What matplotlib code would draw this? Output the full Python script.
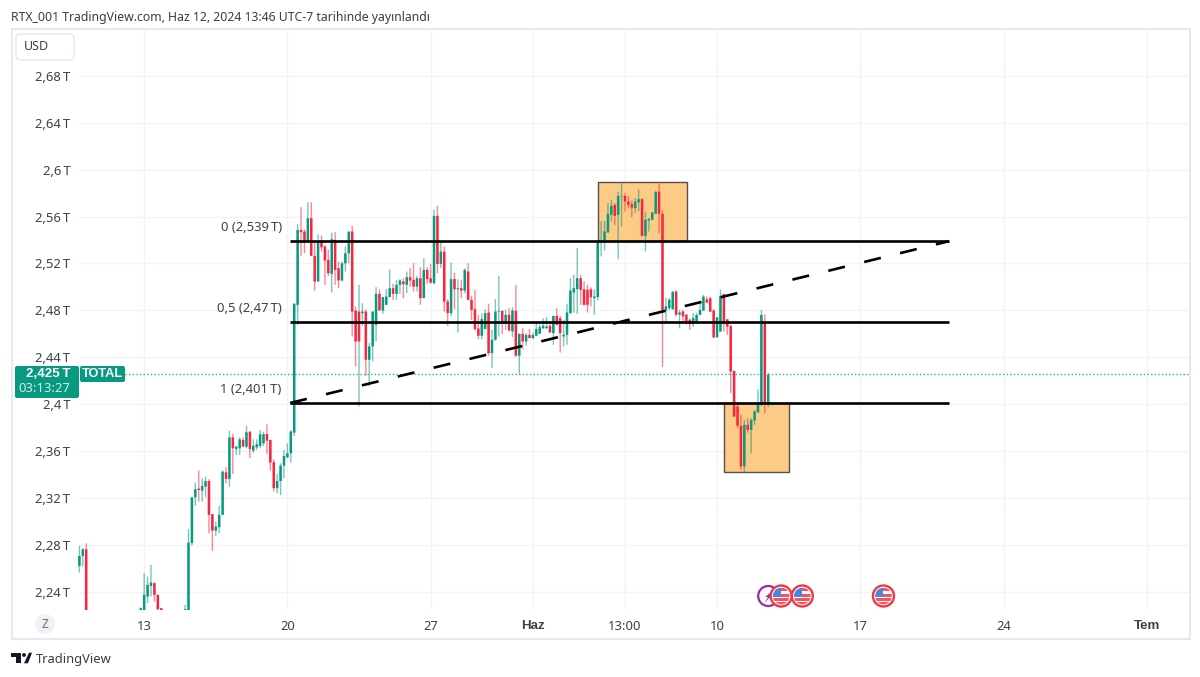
import matplotlib
matplotlib.use("Agg")
import matplotlib.pyplot as plt
from matplotlib.patches import Rectangle, Circle, Polygon, FancyBboxPatch

plt.rcParams['font.family'] = ['Noto Sans', 'DejaVu Sans']

# candle index: 6 candles per day, 0 = 20 May 00:00
candle_idx = list(range(-61, -58)) + list(range(-43, -36)) + list(range(-30, 142))

opens = [2.2621, 2.2706, 2.2763,
 2.20, 2.20, 2.2360, 2.2450, 2.2474, 2.2374, 2.226,
 2.20, 2.20, 2.2815, 2.3206, 2.3280, 2.3263, 2.3297, 2.3345, 2.3062, 2.2922,
 2.2951, 2.3056, 2.3419, 2.3363, 2.3717, 2.3618, 2.3624, 2.3695, 2.3638, 2.3766,
 2.3604, 2.3632, 2.3644, 2.3666, 2.3746, 2.3695, 2.3505, 2.3283, 2.3345, 2.3476,
 2.3547, 2.3581, 2.3757,
 2.4847, 2.5486, 2.5472, 2.5387, 2.5586, 2.5265, 2.5046, 2.5387, 2.5344, 2.5231,
 2.5111, 2.5401, 2.5160, 2.5055, 2.5202, 2.5287, 2.5472, 2.4799, 2.4790, 2.4776,
 2.4790, 2.4379, 2.4492, 2.4677, 2.4941, 2.4799, 2.4847, 2.4913, 2.4989, 2.4941,
 2.5018, 2.5046, 2.5018, 2.5083, 2.5060, 2.5003, 2.5074, 2.4904, 2.5145, 2.5074,
 2.5032, 2.5606, 2.5196, 2.5301, 2.4875, 2.4776, 2.5066, 2.4980, 2.4989, 2.4969,
 2.5131, 2.4890, 2.4810, 2.4645, 2.4583, 2.4640, 2.4782, 2.4435, 2.4549, 2.4790,
 2.4796, 2.4685, 2.4762, 2.4620, 2.4796, 2.4413, 2.4600, 2.4535, 2.4591, 2.4563,
 2.4583, 2.4600, 2.4648, 2.4648, 2.4668, 2.4606, 2.4753, 2.4733, 2.4577, 2.4591,
 2.4776, 2.4952, 2.4980, 2.5074, 2.4980, 2.4975, 2.4980, 2.4904, 2.4913, 2.5387,
 2.5393, 2.5464, 2.5615, 2.5700, 2.5615, 2.5771, 2.5776, 2.5728, 2.5706, 2.5671,
 2.5720, 2.5748, 2.5436, 2.5566, 2.5572, 2.5623, 2.5813, 2.5623, 2.4800, 2.4819,
 2.4809, 2.4961, 2.4763, 2.4791, 2.4763, 2.4720, 2.4683, 2.4690, 2.4761, 2.4798,
 2.4894, 2.4903, 2.4798, 2.4570, 2.4619, 2.4940, 2.4724, 2.4667, 2.4284, 2.3980,
 2.3815, 2.3469, 2.3824, 2.3781, 2.3861, 2.3929, 2.3994, 2.4695, 2.4014]

closes = [2.2706, 2.2763, 2.20,
 2.226, 2.2374, 2.2459, 2.2479, 2.2374, 2.2252, 2.20,
 2.2252, 2.2820, 2.3206, 2.3274, 2.3269, 2.3303, 2.3345, 2.3056, 2.2922, 2.2956,
 2.3056, 2.3425, 2.3363, 2.3717, 2.3624, 2.3638, 2.3700, 2.3638, 2.3760, 2.3618,
 2.3644, 2.3658, 2.3743, 2.3743, 2.3689, 2.3502, 2.3283, 2.3345, 2.3476, 2.3558,
 2.3581, 2.3766, 2.4856,
 2.5486, 2.5466, 2.5387, 2.5586, 2.5265, 2.5046, 2.5387, 2.5338, 2.5225, 2.5117,
 2.5407, 2.5145, 2.5055, 2.5202, 2.5287, 2.5472, 2.4790, 2.4535, 2.4535, 2.4790,
 2.4379, 2.4492, 2.4790, 2.4941, 2.4799, 2.4913, 2.4918, 2.4989, 2.4941, 2.5018,
 2.5055, 2.5023, 2.5083, 2.5055, 2.5003, 2.5074, 2.4904, 2.5145, 2.5066, 2.5037,
 2.5606, 2.5196, 2.5301, 2.4875, 2.4776, 2.5066, 2.4980, 2.4989, 2.4969, 2.5145,
 2.4890, 2.4804, 2.4640, 2.4583, 2.4725, 2.4776, 2.4435, 2.4549, 2.4790, 2.4796,
 2.4685, 2.4762, 2.4628, 2.4799, 2.4413, 2.4600, 2.4535, 2.4591, 2.4563, 2.4591,
 2.4640, 2.4657, 2.4668, 2.4662, 2.4611, 2.4753, 2.4677, 2.4606, 2.4591, 2.4782,
 2.4969, 2.4989, 2.5074, 2.4975, 2.4847, 2.4847, 2.4912, 2.4918, 2.5393, 2.5393,
 2.5473, 2.5623, 2.5691, 2.5606, 2.5776, 2.5776, 2.5728, 2.5700, 2.5677, 2.5728,
 2.5748, 2.5436, 2.5572, 2.5578, 2.5634, 2.5808, 2.5623, 2.4800, 2.4834, 2.4890,
 2.4960, 2.4763, 2.4782, 2.4748, 2.4706, 2.4683, 2.4734, 2.4760, 2.4803, 2.4917,
 2.4866, 2.4789, 2.4570, 2.4741, 2.4923, 2.4690, 2.4661, 2.4278, 2.3895, 2.3818,
 2.3469, 2.3824, 2.3781, 2.3866, 2.3937, 2.3994, 2.4761, 2.4008, 2.4250]

highs = [2.2792, 2.2772, 2.2814,
 2.2266, 2.2559, 2.2530, 2.2630, 2.2479, 2.2374, 2.226,
 2.2289, 2.2934, 2.3206, 2.3331, 2.3434, 2.3368, 2.3382, 2.3360, 2.3062, 2.2999,
 2.3133, 2.3434, 2.3462, 2.3774, 2.3746, 2.3644, 2.3717, 2.3717, 2.3817, 2.3766,
 2.3700, 2.3700, 2.3780, 2.3765, 2.3828, 2.3695, 2.3530, 2.3405, 2.3496, 2.3610,
 2.3666, 2.3780, 2.4861,
 2.5534, 2.5679, 2.5492, 2.5722, 2.5722, 2.5387, 2.5449, 2.5438, 2.5358, 2.5316,
 2.5463, 2.5466, 2.5216, 2.5216, 2.5344, 2.5472, 2.5520, 2.4833, 2.5018, 2.4861,
 2.4810, 2.4521, 2.4790, 2.4998, 2.4981, 2.4913, 2.4981, 2.5151, 2.5026, 2.5060,
 2.5066, 2.5074, 2.5131, 2.5160, 2.5202, 2.5094, 2.5168, 2.5245, 2.5168, 2.5196,
 2.5657, 2.5691, 2.5387, 2.5344, 2.4895, 2.5208, 2.5122, 2.5066, 2.5060, 2.5159,
 2.5202, 2.4924, 2.4975, 2.4762, 2.4776, 2.4810, 2.4856, 2.4634, 2.4895, 2.5094,
 2.4796, 2.4804, 2.4819, 2.4827, 2.5017, 2.4600, 2.4648, 2.4606, 2.4640, 2.4611,
 2.4691, 2.4677, 2.4733, 2.4742, 2.4705, 2.4753, 2.4819, 2.4753, 2.4719, 2.4856,
 2.5074, 2.5103, 2.5330, 2.5103, 2.5046, 2.5020, 2.4997, 2.4980, 2.5393, 2.5563,
 2.5560, 2.5714, 2.5742, 2.5714, 2.5813, 2.5884, 2.5799, 2.5776, 2.5737, 2.5757,
 2.5833, 2.5756, 2.5643, 2.5590, 2.5640, 2.5822, 2.5879, 2.5652, 2.4905, 2.4905,
 2.4960, 2.4970, 2.4805, 2.4805, 2.4770, 2.4730, 2.4777, 2.4779, 2.4860, 2.4931,
 2.4917, 2.4917, 2.4809, 2.4741, 2.4979, 2.4940, 2.4724, 2.4675, 2.4284, 2.4008,
 2.3909, 2.3866, 2.3880, 2.3880, 2.3951, 2.4127, 2.4803, 2.4766, 2.4269]

lows = [2.2564, 2.2616, 2.20,
 2.20, 2.20, 2.2303, 2.2360, 2.2317, 2.20, 2.20,
 2.20, 2.20, 2.2795, 2.3133, 2.3169, 2.3169, 2.3206, 2.2900, 2.2749, 2.2877,
 2.2900, 2.3056, 2.3326, 2.3297, 2.3405, 2.3567, 2.3567, 2.3638, 2.3624, 2.3539,
 2.3587, 2.3610, 2.3624, 2.3644, 2.3576, 2.3434, 2.3255, 2.3240, 2.3226, 2.3368,
 2.3539, 2.3502, 2.3729,
 2.4677, 2.5265, 2.5287, 2.5378, 2.5265, 2.4969, 2.5046, 2.5302, 2.5018, 2.5094,
 2.4952, 2.5018, 2.4989, 2.5046, 2.5131, 2.5202, 2.4577, 2.4322, 2.3981, 2.4668,
 2.4242, 2.4151, 2.4364, 2.4535, 2.4799, 2.4771, 2.4847, 2.4913, 2.4890, 2.4890,
 2.4941, 2.4904, 2.4947, 2.5003, 2.4961, 2.4961, 2.4847, 2.4904, 2.5026, 2.5026,
 2.5020, 2.5117, 2.5160, 2.4790, 2.4668, 2.4753, 2.4810, 2.4611, 2.4904, 2.4946,
 2.4885, 2.4719, 2.4628, 2.4554, 2.4554, 2.4640, 2.4413, 2.4307, 2.4540, 2.4577,
 2.4600, 2.4634, 2.4620, 2.4572, 2.4405, 2.4259, 2.4469, 2.4498, 2.4563, 2.4555,
 2.4583, 2.4600, 2.4640, 2.4640, 2.4611, 2.4506, 2.4670, 2.4441, 2.4492, 2.4506,
 2.4770, 2.4782, 2.4770, 2.4847, 2.4840, 2.4782, 2.4833, 2.4762, 2.4885, 2.5260,
 2.5308, 2.5464, 2.5558, 2.5529, 2.5236, 2.5515, 2.5643, 2.5671, 2.5595, 2.5629,
 2.5643, 2.5430, 2.5302, 2.5473, 2.5572, 2.5623, 2.5458, 2.4317, 2.4706, 2.4805,
 2.4809, 2.4748, 2.4647, 2.4697, 2.4680, 2.4633, 2.4658, 2.4690, 2.4761, 2.4798,
 2.4860, 2.4789, 2.4562, 2.4570, 2.4619, 2.4619, 2.4590, 2.4093, 2.3890, 2.3795,
 2.3440, 2.3412, 2.3758, 2.3582, 2.3824, 2.3929, 2.3985, 2.3923, 2.3974]

green_wick_on_red = [21]  # the one red body with a green wick

y_ticks = [2.24, 2.28, 2.32, 2.36, 2.40, 2.44, 2.48, 2.52, 2.56, 2.60, 2.64, 2.68]
y_tick_labels = ['2,24\u2009T', '2,28\u2009T', '2,32\u2009T', '2,36\u2009T', '2,4\u2009T', '2,44\u2009T',
                 '2,48\u2009T', '2,52\u2009T', '2,56\u2009T', '2,6\u2009T', '2,64\u2009T', '2,68\u2009T']
x_ticks = [-42, 0, 42, 72, 99, 126, 168, 210, 252]
x_tick_labels = ['13', '20', '27', 'Haz', '13:00', '10', '17', '24', 'Tem']
bold_x_labels = ['Haz', 'Tem']

fib_levels = [2.539, 2.47, 2.401]
fib_labels = ['0 (2,539\u2009T)', '0,5 (2,47\u2009T)', '1 (2,401\u2009T)']
fib_start, fib_end = 0.8, 194.0
last_price = 2.4255
boxes = [(91.2, 117.3, 2.539, 2.5893), (128.1, 147.1, 2.3424, 2.401)]
event_idx = [141.0, 144.8, 151.0, 174.8]
event_kinds = ['bolt', 'flag', 'flag', 'flag']

GREEN, RED = '#089981', '#F7253F'
TXT = '#3E4148'
GRID = '#F2F3F5'
BOLD = ['Liberation Sans', 'DejaVu Sans']

W, H = 1200, 677
fig = plt.figure(figsize=(W / 100, H / 100), dpi=100, facecolor='white')

L, R, T, B = 12, 1190, 29, 610
ax = fig.add_axes([L / W, 1 - B / H, (R - L) / W, (B - T) / H])
PX = 3.41
ax.set_xlim((L - 287.4) / PX, (R - 287.4) / PX)
PY = 1172.7
ax.set_ylim(2.401 - (B - 403.0) / PY, 2.401 + (403.0 - T) / PY)
for s in ax.spines.values():
    s.set_visible(False)

ax.set_yticks(y_ticks, y_tick_labels)
ax.set_xticks(x_ticks, x_tick_labels)
ax.tick_params(axis='y', length=0, pad=-42, labelsize=9.4, labelcolor=TXT)
ax.tick_params(axis='x', length=0, pad=7, labelsize=9.4, labelcolor=TXT)
for lab in ax.get_xticklabels():
    if lab.get_text() in bold_x_labels:
        lab.set_fontweight('bold')
        lab.set_fontfamily(BOLD)
        lab.set_fontsize(9.6)

ax.hlines(y_ticks, (79 - 287.4) / PX, (R - 287.4) / PX, color=GRID, lw=1, zorder=0)
ax.vlines(x_ticks, *ax.get_ylim(), color=GRID, lw=1, zorder=0)

for x0, x1, y0, y1 in boxes:
    ax.add_patch(Rectangle((x0, y0), x1 - x0, y1 - y0, fc='#FCCB85', ec='#55504A', lw=1, zorder=1))

for i, o, c, h, l in zip(candle_idx, opens, closes, highs, lows):
    col = GREEN if c >= o else RED
    wick = GREEN if i in green_wick_on_red else col
    ax.vlines(i, l, h, color=wick, lw=1.0, alpha=0.55, zorder=2, snap=False)
    ax.bar(i, abs(c - o), bottom=min(o, c), width=0.74, color=col, lw=0, zorder=3, snap=False)

ax.axhline(last_price, xmin=(125 - L) / (R - L), color='#2FAE98', lw=1.0, ls=(0, (1, 1.6)), zorder=2)
ax.hlines(fib_levels, fib_start, fib_end, color='black', lw=1.9, zorder=4)
ax.plot([fib_start, fib_end], [fib_levels[2], fib_levels[0]], color='black', lw=1.9,
        ls=(0, (6.5, 7.5)), zorder=4)
for lev, txt in zip(fib_levels, fib_labels):
    ax.annotate(txt, (fib_start, lev), xytext=(-6, 9.5), textcoords='offset points', ha='right', va='center',
                fontsize=9.4, color=TXT, zorder=5)

# page chrome in pixel coordinates
ov = fig.add_axes([0, 0, 1, 1], facecolor='none')
ov.set_xlim(0, W)
ov.set_ylim(H, 0)
ov.axis('off')
ov.add_patch(Rectangle((11.5, 28.5), R - 11.5, 610, fc='none', ec='#E8E9EF', lw=1.4))

ov.text(11, 17, 'RTX_001 TradingView.com, Haz 12, 2024 13:46 UTC-7 tarihinde yayınlandı',
        fontsize=8.82, color='#3A3D44', va='center', ha='left')

ov.add_patch(FancyBboxPatch((16, 34), 58, 26, boxstyle='round,pad=0,rounding_size=4',
                            fc='white', ec='#E6E8EE', lw=1))
ov.text(36, 46.5, 'USD', fontsize=9, color=TXT, ha='center', va='center')

ov.add_patch(FancyBboxPatch((15, 366), 64, 32, boxstyle='round,pad=0,rounding_size=2', fc=GREEN, ec='none'))
ov.text(70, 374, '2,425\u2009T', fontsize=9.6, color='white', ha='right', va='center', fontweight='bold', family=BOLD)
ov.text(70, 389, '03:13:27', fontsize=9.4, color='#CDEBE5', ha='right', va='center')
ov.add_patch(FancyBboxPatch((80, 366), 45, 16, boxstyle='round,pad=0,rounding_size=2', fc=GREEN, ec='none'))
ov.text(102.5, 374, 'TOTAL', fontsize=9.2, color='white', ha='center', va='center', fontweight='bold', family=BOLD)

ov.add_patch(Circle((45, 624), 10, fc='#F0F1F5', ec='none'))
ov.text(45, 624, 'Z', fontsize=8.5, color='#6A6D78', ha='center', va='center')

# TradingView mark and word
ov.add_patch(Polygon([(11, 652.7), (20.7, 652.7), (20.7, 663.3), (16, 663.3), (16, 656.7), (11, 656.7)], fc='#131722', ec='none'))
ov.add_patch(Circle((24, 655), 1.9, fc='#131722', ec='none'))
ov.add_patch(Polygon([(29, 652.7), (32, 652.7), (28, 663.3), (24, 663.3)], fc='#131722', ec='none'))
ov.text(36, 659, 'TradingView', fontsize=9.3, color='#3A3D44', ha='left', va='center')

# event icons
ey = 596
for i, kind in zip(event_idx, event_kinds):
    ex = 287.4 + PX * i
    if kind == 'bolt':
        ov.add_patch(Circle((ex, ey), 10, fc='white', ec='#9C27B0', lw=1.6, zorder=5))
        ov.add_patch(Polygon([(ex + 5, ey - 6), (ex - 3, ey + 1), (ex, ey + 1), (ex - 4, ey + 7), (ex + 4, ey - 1), (ex + 1, ey - 1)],
                             fc='#9C27B0', ec='none', zorder=5))
        continue
    ring = Circle((ex, ey), 10.5, fc='white', ec='#F23645', lw=1.7, zorder=6)
    ov.add_patch(ring)
    clip = Circle((ex, ey), 8.3, transform=ov.transData)
    for yy, hh, xx, ww, col in [(-8.5, 3.0, -1, 10, '#F7525F'), (-2.5, 3.0, -1, 10, '#F7525F'),
                                (2.0, 3.2, -9, 19, '#F7525F'), (6.0, 3.0, -9, 19, '#F7525F'),
                                (-8.5, 9.5, -9, 8.5, '#4A86E0')]:
        r = Rectangle((ex + xx, ey + yy), ww, hh, fc=col, ec='none', zorder=7)
        ov.add_patch(r)
        r.set_clip_path(clip)

fig.savefig('out.png', dpi=100)
